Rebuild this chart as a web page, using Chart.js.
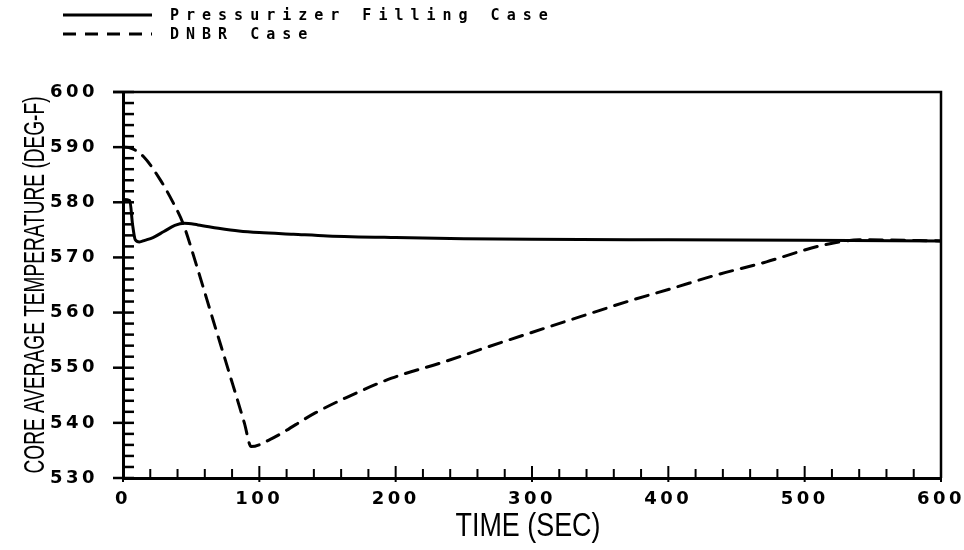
<!DOCTYPE html>
<html>
<head>
<meta charset="utf-8">
<script src="https://cdn.jsdelivr.net/npm/chart.js@4.4.0/dist/chart.umd.min.js"></script>
<style>
  html, body { margin: 0; padding: 0; background: #fff; }
</style>
</head>
<body>
<canvas id="myChart" width="964" height="550"></canvas>
<script>
// time (sec) / core average temperature (deg-F)
var fillTime = [0, 5, 7, 9, 12, 16, 22, 30, 38, 45, 55, 70, 85, 100, 125, 150, 200, 250, 300, 400, 500, 600];
var fillTemp = [580.5, 580.3, 576, 573.2, 572.8, 573.1, 573.6, 574.7, 575.8, 576.2, 575.9, 575.3, 574.8, 574.5, 574.2, 573.9, 573.6, 573.4, 573.3, 573.2, 573.1, 573.0];

var dnbrTime = [0, 6, 15, 27, 36, 44, 54, 66, 78, 89, 94, 108, 141, 163, 197, 236, 268, 336, 370, 403, 435, 472, 505, 523, 540, 600];
var dnbrTemp = [590, 589.8, 588.3, 584.2, 580.3, 576.2, 568.5, 558.7, 549, 540, 535.7, 537, 541.8, 544.5, 548.1, 551.1, 553.8, 559.3, 562, 564.4, 566.8, 569.2, 571.7, 572.7, 573.2, 573.0];

var xTicks = [0, 100, 200, 300, 400, 500, 600];
var yTicks = [530, 540, 550, 560, 570, 580, 590, 600];

var toPoints = function(xs, ys) {
    return xs.map(function(x, i) { return {x: x, y: ys[i]}; });
};

var tickFont = {family: 'DejaVu Sans', weight: 'bold', size: 18};

// tall narrow axis title: squeeze the text to a given length
var drawTitle = function(ctx, text, x, y, rot, size, len) {
    ctx.save();
    ctx.translate(x, y);
    ctx.rotate(rot);
    ctx.font = size + 'px "Liberation Sans"';
    var w = ctx.measureText(text).width;
    ctx.scale(len / w, 1);
    ctx.fillStyle = '#000';
    ctx.textAlign = 'center';
    ctx.textBaseline = 'middle';
    ctx.fillText(text, 0, 0);
    ctx.restore();
};

// box frame, inward tick marks, spaced tick labels, titles and legend
var frameAndTicks = {
    id: 'frameAndTicks',
    afterDatasetsDraw: function(chart) {
        var ctx = chart.ctx;
        var a = chart.chartArea;
        var xs = chart.scales.x, ys = chart.scales.y;
        ctx.save();
        ctx.strokeStyle = '#000';
        ctx.lineCap = 'butt';
        // top and right edges
        ctx.lineWidth = 2.5;
        ctx.beginPath();
        ctx.moveTo(a.left - 10, a.top);
        ctx.lineTo(a.right, a.top);
        ctx.lineTo(a.right, a.bottom);
        ctx.stroke();
        // y ticks every 2 deg
        for (var v = yTicks[0]; v <= yTicks[yTicks.length - 1]; v += 2) {
            var py = ys.getPixelForValue(v);
            var major = yTicks.indexOf(v) >= 0;
            ctx.beginPath();
            ctx.moveTo(major ? a.left - 10 : a.left, py);
            ctx.lineTo(a.left + 11, py);
            ctx.stroke();
        }
        // x ticks every 20 sec
        ctx.lineWidth = 2;
        for (var t = xTicks[0]; t <= xTicks[xTicks.length - 1]; t += 20) {
            var px = xs.getPixelForValue(t);
            var maj = xTicks.indexOf(t) >= 0;
            ctx.beginPath();
            ctx.moveTo(px, maj ? a.bottom + 4 : a.bottom);
            ctx.lineTo(px, a.bottom - (maj ? 12 : 9));
            ctx.stroke();
        }
        ctx.restore();
        // tick labels are drawn after this hook (ticks.z = 1)
        ctx.letterSpacing = '3.5px';
    },
    afterDraw: function(chart) {
        var ctx = chart.ctx;
        var a = chart.chartArea;
        ctx.letterSpacing = '0px';

        drawTitle(ctx, chart.options.scales.y.title.text, 36, (a.top + a.bottom) / 2, -Math.PI / 2, 29, 377);
        drawTitle(ctx, chart.options.scales.x.title.text, (a.left + a.right) / 2 - 4, 527, 0, 34, 145);

        ctx.save();
        chart.data.datasets.forEach(function(ds, i) {
            var y = 15 + i * 19;
            ctx.strokeStyle = ds.borderColor;
            ctx.lineWidth = 3;
            ctx.setLineDash(ds.borderDash || []);
            ctx.beginPath();
            ctx.moveTo(63, y);
            ctx.lineTo(152, y);
            ctx.stroke();
            ctx.setLineDash([]);
            ctx.letterSpacing = '7px';
            ctx.fillStyle = '#000';
            ctx.font = 'bold 15px "DejaVu Sans Mono"';
            ctx.textBaseline = 'middle';
            ctx.fillText(ds.label, 170, y + 1);
            ctx.letterSpacing = '0px';
        });
        ctx.restore();
    }
};

var ctx = document.getElementById('myChart');

var myChart = new Chart(ctx, {
    type: 'line',
    data: {
        datasets: [
            {
                label: 'Pressurizer Filling Case',
                data: toPoints(fillTime, fillTemp),
                borderColor: '#000',
                borderWidth: 3,
                pointRadius: 0,
                fill: false,
                cubicInterpolationMode: 'monotone'
            },
            {
                label: 'DNBR Case',
                data: toPoints(dnbrTime, dnbrTemp),
                borderColor: '#000',
                borderWidth: 3,
                borderDash: [13, 9],
                borderCapStyle: 'round',
                pointRadius: 0,
                fill: false,
                cubicInterpolationMode: 'monotone'
            }
        ]
    },
    options: {
        responsive: false,
        animation: false,
        devicePixelRatio: 1,
        layout: {padding: {top: 92, right: 23, left: 0, bottom: 0}},
        plugins: {
            legend: {display: false},
            tooltip: {enabled: false}
        },
        scales: {
            x: {
                type: 'linear',
                min: 0,
                max: 600,
                afterBuildTicks: function(scale) {
                    scale.ticks = xTicks.map(function(v) { return {value: v}; });
                },
                ticks: {color: '#000', font: tickFont, padding: 3, z: 1, maxRotation: 0},
                grid: {display: false},
                border: {display: true, color: '#000', width: 3},
                title: {display: false, text: 'TIME (SEC)'},
                afterFit: function(scale) { scale.height = 72; }
            },
            y: {
                min: 530,
                max: 600,
                afterBuildTicks: function(scale) {
                    scale.ticks = yTicks.map(function(v) { return {value: v}; });
                },
                ticks: {color: '#000', font: tickFont, padding: 17, z: 1},
                grid: {display: false},
                border: {display: true, color: '#000', width: 3},
                title: {display: false, text: 'CORE AVERAGE TEMPERATURE (DEG-F)'},
                afterFit: function(scale) { scale.width = 123; }
            }
        }
    },
    plugins: [frameAndTicks]
});
</script>
</body>
</html>
